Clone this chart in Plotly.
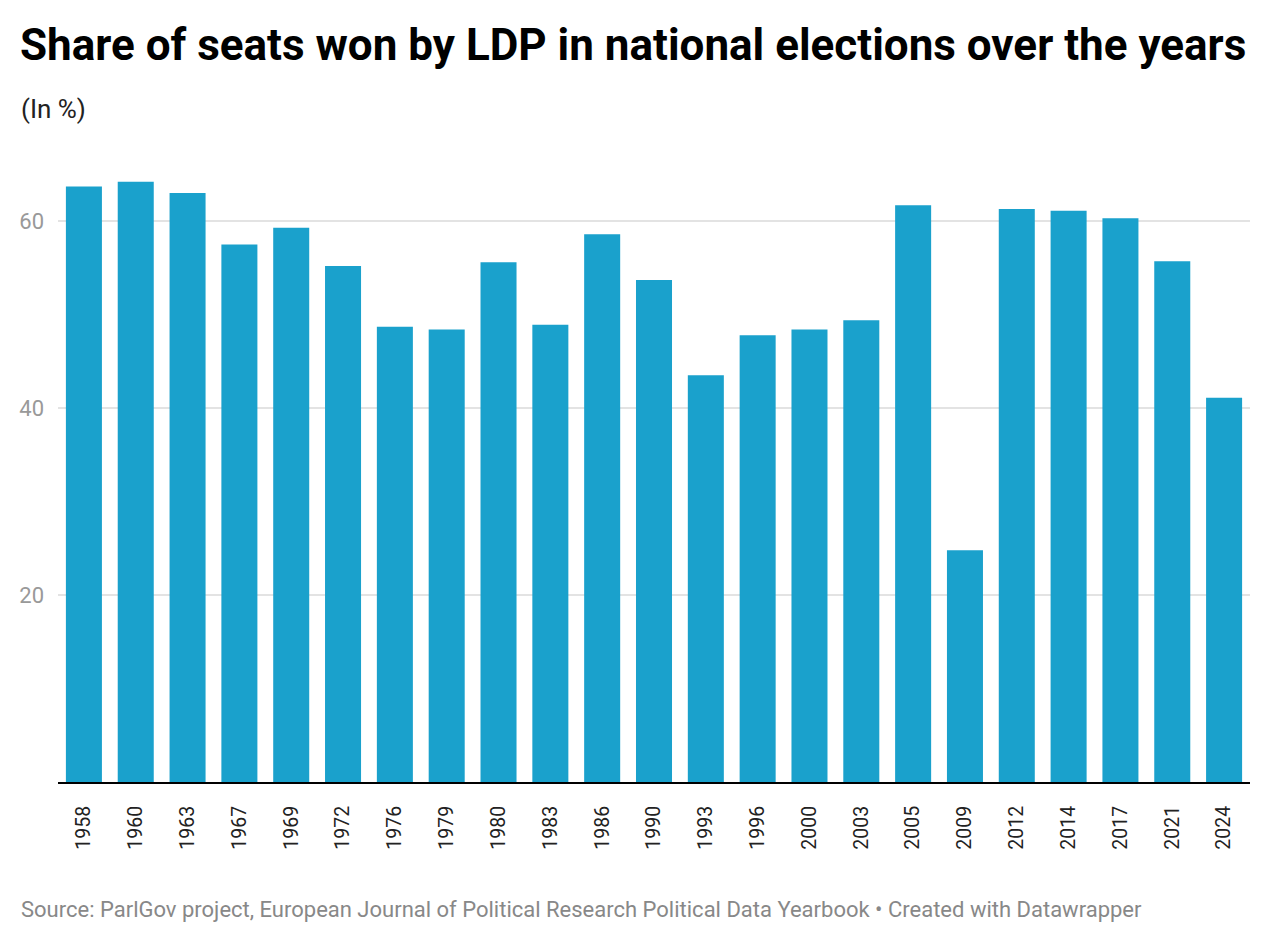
import plotly.graph_objects as go

years = ["1958", "1960", "1963", "1967", "1969", "1972", "1976", "1979", "1980", "1983",
         "1986", "1990", "1993", "1996", "2000", "2003", "2005", "2009", "2012", "2014",
         "2017", "2021", "2024"]
seat_share = [63.7, 64.2, 63.0, 57.5, 59.3, 55.2, 48.7, 48.4, 55.6, 48.9,
              58.6, 53.7, 43.5, 47.8, 48.4, 49.4, 61.7, 24.8, 61.3, 61.1,
              60.3, 55.7, 41.1]
y_ticks = [20, 40, 60]

title = "Share of seats won by LDP in national elections over the years"
subtitle = "(In %)"
source = "Source: ParlGov project, European Journal of Political Research Political Data Yearbook • Created with Datawrapper"

fig = go.Figure(go.Bar(x=years, y=seat_share, marker_color="#1aa1cc",
                       marker_line_width=0, hoverinfo="x+y"))

H = 942; W = 1270
pl, pr, pt, pb = 58, 20, 165, 160
ph = H - pt - pb; pw = W - pl - pr
def px(xp): return (xp - pl) / pw
def py(yp): return (H - pb - yp) / ph

fig.update_layout(
    width=W, height=H,
    paper_bgcolor="white", plot_bgcolor="white",
    margin=dict(l=pl, r=pr, t=pt, b=pb),
    bargap=0.305,
    font=dict(family="Roboto", color="#333333"),
    showlegend=False,
    annotations=[
        dict(text="<b>" + title + "</b>", x=px(18), y=py(73), xref="paper", yref="paper",
             xanchor="left", yanchor="bottom", showarrow=False,
             font=dict(size=44, color="#000000", family="Roboto")),
        dict(text=subtitle, x=px(19), y=py(126), xref="paper", yref="paper",
             xanchor="left", yanchor="bottom", showarrow=False,
             font=dict(size=26, color="#222222", family="Roboto")),
        dict(text=source, x=px(19), y=py(924), xref="paper", yref="paper",
             xanchor="left", yanchor="bottom", showarrow=False,
             font=dict(size=22, color="#888888", family="Roboto")),
    ],
)

fig.update_xaxes(
    type="category", tickangle=-90, showgrid=False,
    showline=True, linecolor="#000000", linewidth=2,
    ticks="outside", ticklen=0, ticklabelstandoff=14,
    tickfont=dict(size=19.5, color="#222222", family="Roboto"),
)
fig.update_yaxes(
    range=[0, 66], tickvals=y_ticks, showgrid=True, gridcolor="#e3e3e3", gridwidth=1.5,
    zeroline=False, showline=False, ticklabelstandoff=13,
    tickfont=dict(size=22, color="#999999", family="Roboto"),
)

fig.write_html("out.html")
